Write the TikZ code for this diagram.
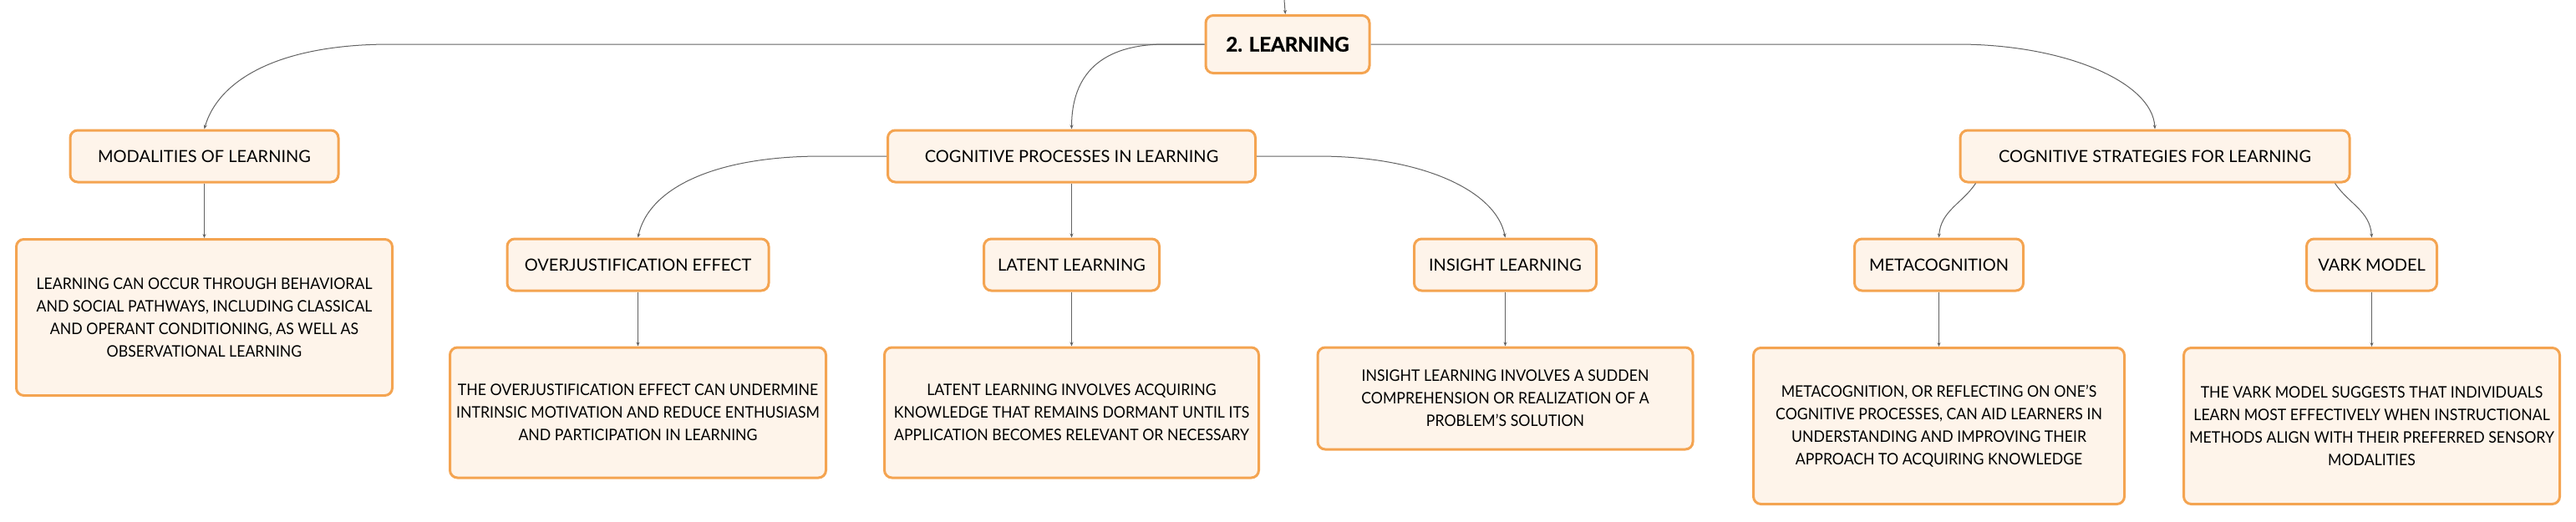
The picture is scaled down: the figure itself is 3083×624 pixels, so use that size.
\documentclass[tikz,border=0pt]{standalone}
\usepackage{fontspec}
\setmainfont{Lato}[FakeStretch=0.93]
\newfontfamily\titlefont{Lato}
\newfontfamily\rootfont{Lato}[BoldFeatures={FakeBold=1.2}]
\usetikzlibrary{arrows.meta,positioning,calc}
\definecolor{boxline}{HTML}{F4A451}
\definecolor{boxfill}{HTML}{FEF4EA}
\definecolor{linkgray}{HTML}{626262}
\tikzset{
	box/.style={draw=boxline, fill=boxfill, line width=3pt, rounded corners=9pt,
		align=center, inner sep=0pt, font=\fontsize{19}{27}\selectfont},
	topic/.style 2 args={box, minimum width=#1, minimum height=#2},
	head/.style 2 args={topic={#1}{#2}, font=\fontsize{20}{24}\selectfont\titlefont},
	rootbox/.style={topic={196pt}{69pt}, font=\fontsize{24}{28}\selectfont\rootfont\bfseries},
	link/.style={draw=linkgray, line width=1pt, -{Stealth[length=5pt,width=4pt]}}
}

\begin{document}
\begin{tikzpicture}[x=1pt, y=-1pt]
	\useasboundingbox (0,0) rectangle (3083,624);
	\coordinate (up) at (1537,0);
	% root and main branches
	\node[rootbox] (learn) at (1541,53) {2. LEARNING};
	\node[head={321pt}{62pt}] (modal) at (244.5,187) {MODALITIES OF LEARNING};
	\node[head={440pt}{62pt}] (proc) at (1282.5,187) {COGNITIVE PROCESSES IN LEARNING};
	\node[head={466pt}{62pt}] (strat) at (2579,187) {COGNITIVE STRATEGIES FOR LEARNING};
	% sub topics
	\node[head={313pt}{62pt}] (overj) at (763.5,317) {OVERJUSTIFICATION EFFECT};
	\node[head={210pt}{62pt}] (latent) at (1282.5,317) {LATENT LEARNING};
	\node[head={218pt}{62pt}] (insight) at (1801.5,317) {INSIGHT LEARNING};
	\node[head={202pt}{62pt}] (meta) at (2320.5,317) {METACOGNITION};
	\node[head={156pt}{62pt}] (vark) at (2838.5,317) {VARK MODEL};
	% descriptions
	\node[topic={450pt}{187pt}] (modaltxt) at (244.5,380)
		{LEARNING CAN OCCUR THROUGH BEHAVIORAL\\AND SOCIAL PATHWAYS, INCLUDING CLASSICAL\\AND OPERANT CONDITIONING, AS WELL AS\\OBSERVATIONAL LEARNING};
	\node[topic={450pt}{156pt}] (overjtxt) at (763.5,494)
		{THE OVERJUSTIFICATION EFFECT CAN UNDERMINE\\INTRINSIC MOTIVATION AND REDUCE ENTHUSIASM\\AND PARTICIPATION IN LEARNING};
	\node[topic={448pt}{156pt}] (latenttxt) at (1282.5,494)
		{LATENT LEARNING INVOLVES ACQUIRING\\KNOWLEDGE THAT REMAINS DORMANT UNTIL ITS\\APPLICATION BECOMES RELEVANT OR NECESSARY};
	\node[topic={449pt}{122pt}] (insighttxt) at (1801.5,477)
		{INSIGHT LEARNING INVOLVES A SUDDEN\\COMPREHENSION OR REALIZATION OF A\\PROBLEM’S SOLUTION};
	\node[topic={444pt}{187pt}] (metatxt) at (2320.5,510)
		{METACOGNITION, OR REFLECTING ON ONE’S\\COGNITIVE PROCESSES, CAN AID LEARNERS IN\\UNDERSTANDING AND IMPROVING THEIR\\APPROACH TO ACQUIRING KNOWLEDGE};
	\node[topic={450pt}{187pt}] (varktxt) at (2838.5,510)
		{THE VARK MODEL SUGGESTS THAT INDIVIDUALS\\LEARN MOST EFFECTIVELY WHEN INSTRUCTIONAL\\METHODS ALIGN WITH THEIR PREFERRED SENSORY\\MODALITIES};
	% curved branches
	\draw[link] (up) -- (learn);
	\draw[link] (learn.west) -- ++(-974,0) .. controls +(-139,0) and +(16,-56) .. (modal.north);
	\draw[link] (learn.west) -- ++(-47,0) .. controls +(-76,0) and +(0,-66) .. (proc.north);
	\draw[link] (learn.east) -- ++(702,0) .. controls +(129,0) and +(-3,-56) .. (strat.north);
	\draw[link] (proc.west) -- ++(-77,0) .. controls +(-135,0) and +(12,-56) .. (overj.north);
	\draw[link] (proc.east) -- ++(73,0) .. controls +(125,0) and +(-11,-56) .. (insight.north);
	\draw[link] ($(strat.south west)+(20,0)$) .. controls +(-16,24) and +(2,-32) .. (meta.north);
	\draw[link] ($(strat.south east)+(-19,0)$) .. controls +(16,24) and +(-2,-32) .. (vark.north);
	% straight links
	\path[link]
	(proc) edge (latent)
	(modal) edge (modaltxt)
	(overj) edge (overjtxt)
	(latent) edge (latenttxt)
	(insight) edge (insighttxt)
	(meta) edge (metatxt)
	(vark) edge (varktxt);
\end{tikzpicture}
\end{document}
